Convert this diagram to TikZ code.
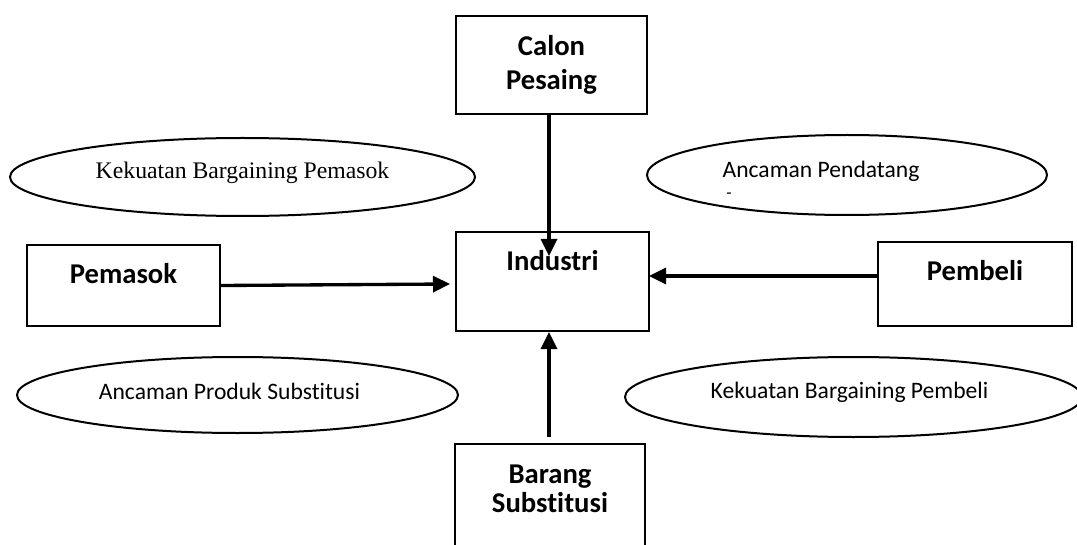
\documentclass[tikz,border=0pt]{standalone}
\usepackage{fontspec}
\setmainfont{Carlito}[Ligatures={NoCommon}]
\newfontfamily\timesfont{Liberation Serif}
\usetikzlibrary{shapes.geometric,arrows.meta}
\tikzset{
  boxnode/.style={draw,line width=1.5pt,rectangle,inner sep=4pt,anchor=base,
    font=\bfseries\fontsize{21.5}{24}\selectfont},
  ellnode/.style={draw,ellipse,line width=1.5pt,inner sep=0pt,
    font=\fontsize{17.7}{20}\selectfont},
  arr/.style={line width=2.5pt,-{Triangle[length=12.75pt,width=12pt]}},
}
\begin{document}
\begin{tikzpicture}[x=0.75pt,y=-0.75pt]
\useasboundingbox (0,0) rectangle (1077,545);
\clip (0,0) rectangle (1077,545);
% boxes
\node[boxnode, minimum width=143.25pt, text height=26pt, text depth=39.5pt] (calon) at (551.5,56)
  {\begin{tabular}[t]{@{}c@{}}Calon\\[1.5pt]Pesaing\end{tabular}};
\node[boxnode, minimum width=144.75pt, text height=24.5pt, text depth=41.75pt] (industri) at (552.5,270) {Industri};
\node[boxnode, minimum width=144.75pt, text height=24.5pt, text depth=28.25pt] (pemasok) at (123.5,283) {Pemasok};
\node[boxnode, minimum width=145.5pt, text height=25.25pt, text depth=29.75pt] (pembeli) at (975,281) {Pembeli};
\node[boxnode, minimum width=142.5pt, text height=25.25pt, text depth=69.5pt] (barang) at (550,483)
  {\begin{tabular}[t]{@{}c@{}}Barang\\[-2.2pt]Substitusi\end{tabular}};
% ellipses
\node[ellnode, font=\timesfont\fontsize{17.8}{20}\selectfont, minimum width=348.75pt, minimum height=58.5pt,
  text height=8pt, text depth=5pt] (kbpemasok) at (242.5,177) {Kekuatan Bargaining Pemasok};
\node[ellnode, minimum width=300pt, minimum height=60pt, text height=9.5pt, text depth=5pt]
  (pendatang) at (847,175) {Ancaman Pendatang\kern39pt};
\node[font=\fontsize{13}{13}\selectfont, inner sep=0pt] (dash) at (729,196) {-};
\node[ellnode, minimum width=330.75pt, minimum height=57pt, text height=11pt, text depth=5pt]
  (produk) at (237.5,395) {Ancaman Produk Substitusi\kern12pt};
\node[ellnode, minimum width=342.75pt, minimum height=60pt, text height=6.5pt, text depth=5pt]
  (kbpembeli) at (853.5,397) {Kekuatan Bargaining Pembeli\kern6pt};
% connectors
\coordinate (c1) at (549,256);
\draw[arr] (calon.south -| c1) -- (c1);
\coordinate (p1) at (450,284);
\draw[arr] (pemasok.east) -- (p1);
\coordinate (b1) at (649,276);
\draw[arr] (pembeli.west |- b1) -- (b1);
\coordinate (s0) at (549,437);
\draw[arr] (s0) -- (industri.south -| s0);
\end{tikzpicture}
\end{document}
